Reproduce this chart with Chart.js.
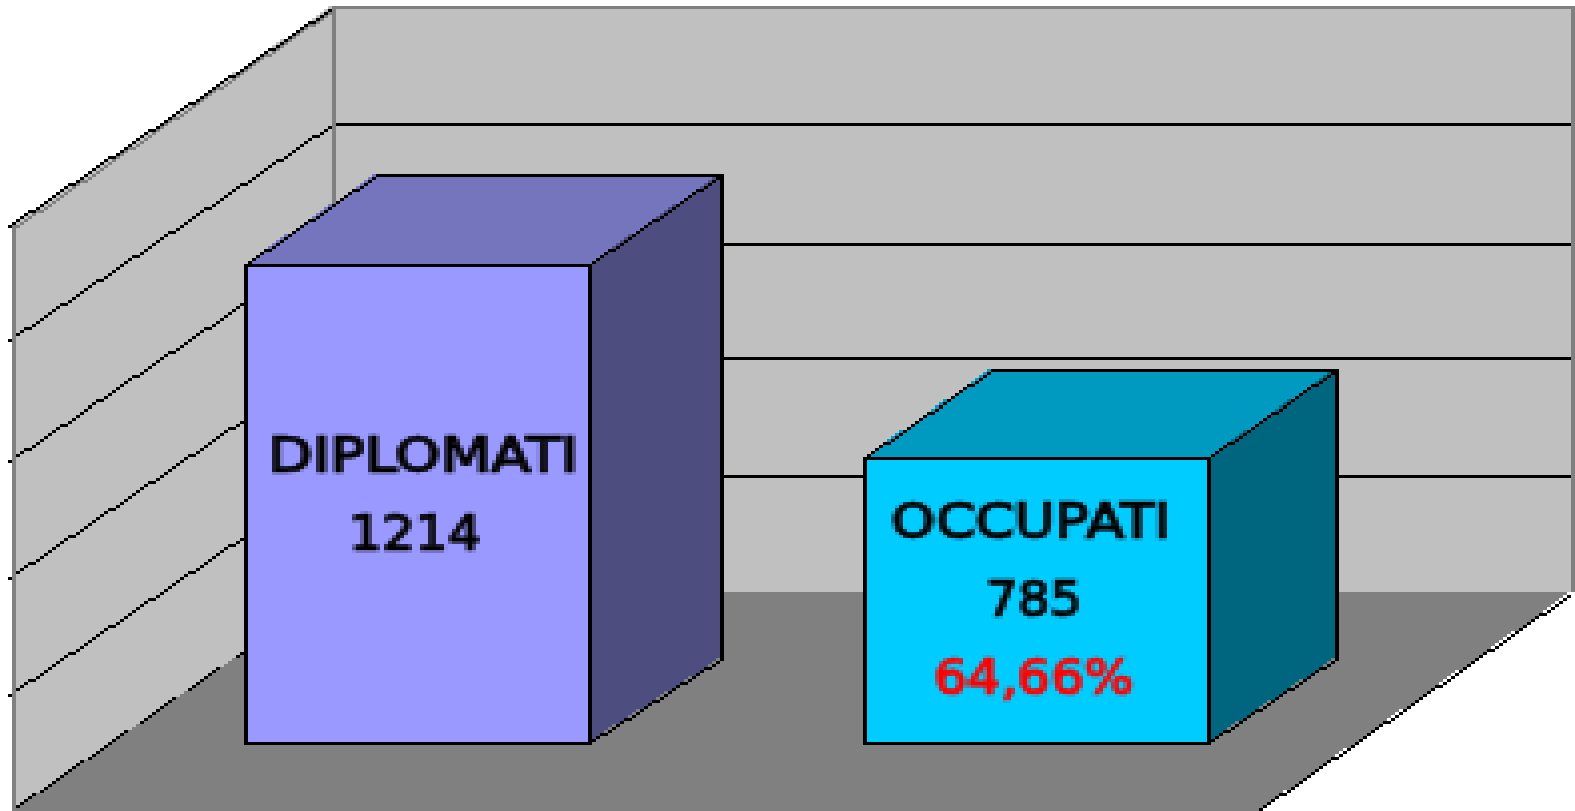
<!DOCTYPE html>
<html>
<head>
<meta charset="utf-8">
<script src="https://cdn.jsdelivr.net/npm/chart.js@4"></script>
<style>
html,body{margin:0;padding:0;background:#fff;overflow:hidden}
#c{display:block;width:1575px !important;height:811px !important;image-rendering:pixelated}
</style>
</head>
<body>
<canvas id="c" width="394" height="270"></canvas>
<script>
const categories = ['DIPLOMATI', 'OCCUPATI'];
const values = [1214, 785];
const notes = [null, '64,66%'];
const gridValues = [142, 402, 662, 920, 1187, 1442];
const frontColors = ['#9999ff', '#00ccff'];
const sideColors = ['#4d4d80', '#006680'];
const topColors = ['#7575bd', '#0099bf'];

function pxLine(c, x0, y0, x1, y1, color) {
  x0 = Math.round(x0); y0 = Math.round(y0); x1 = Math.round(x1); y1 = Math.round(y1);
  c.fillStyle = color;
  const dx = Math.abs(x1 - x0), dy = -Math.abs(y1 - y0);
  const sx = x0 < x1 ? 1 : -1, sy = y0 < y1 ? 1 : -1;
  let err = dx + dy;
  for (;;) {
    c.fillRect(x0, y0, 1, 1);
    if (x0 === x1 && y0 === y1) break;
    const e2 = 2 * err;
    if (e2 >= dy) { err += dy; x0 += sx; }
    if (e2 <= dx) { err += dx; y0 += sy; }
  }
}
function pxPoly(c, pts, color) {
  c.fillStyle = color;
  const ys = pts.map(p => p[1]);
  const y0 = Math.floor(Math.min(...ys)), y1 = Math.ceil(Math.max(...ys));
  for (let y = y0; y < y1; y++) {
    const sy = y + 0.5;
    let a = Infinity, b = -Infinity;
    pts.forEach((p, i) => {
      const q = pts[(i + 1) % pts.length];
      if ((p[1] <= sy && q[1] > sy) || (q[1] <= sy && p[1] > sy)) {
        const x = p[0] + (sy - p[1]) * (q[0] - p[0]) / (q[1] - p[1]);
        a = Math.min(a, x); b = Math.max(b, x);
      }
    });
    if (a < b) c.fillRect(Math.round(a), y, Math.round(b) - Math.round(a), 1);
  }
}

const WALL_L = 3, BACK_L = 83, WALL_R = 393, FLOOR_FR = 314;
const TO_BACK = 51, TO_FRONT = 21.4, WALL_TOP_LIFT = 1;
const BAR_DX = [33, 32], BAR_DY_TOP = [30, 29], BAR_DY_BOT = 28;

const scene = {
  id: 'scene',
  beforeDatasetsDraw(chart) {
    const c = chart.ctx, y = chart.scales.y;
    const base = y.getPixelForValue(gridValues[0]);
    const top = y.getPixelForValue(gridValues[gridValues.length - 1]);
    const floorFront = base + TO_FRONT + 1;
    const backTop = Math.round(top - TO_BACK) - WALL_TOP_LIFT;
    const wallH = Math.round(base - TO_BACK) - backTop;
    pxPoly(c, [[WALL_L, top + TO_FRONT], [BACK_L, backTop], [BACK_L, base - TO_BACK], [WALL_L, floorFront]], '#c0c0c0');
    c.fillStyle = '#c0c0c0';
    c.fillRect(BACK_L, backTop, WALL_R - BACK_L, wallH);
    gridValues.forEach((v, i) => {
      const p = y.getPixelForValue(v);
      const last = i === gridValues.length - 1;
      if (i > 0) pxLine(c, WALL_L - 1, p + TO_FRONT, BACK_L, last ? backTop : p - TO_BACK, '#000');
      else pxLine(c, WALL_L, p + TO_FRONT, BACK_L, p - TO_BACK - 1, '#000');
      if (i > 0 && !last) {
        c.fillStyle = '#000';
        c.fillRect(BACK_L, Math.round(p - TO_BACK), WALL_R - BACK_L, 1);
      }
    });
    pxLine(c, WALL_L + 1, top + TO_FRONT, BACK_L, backTop + 1, '#808080');
    c.fillStyle = '#808080';
    c.fillRect(BACK_L, backTop, WALL_R - BACK_L + 1, 1);
    c.fillRect(BACK_L, backTop, 1, wallH);
    c.fillRect(WALL_R, backTop, 1, wallH);
    c.fillRect(WALL_L, Math.round(top + TO_FRONT), 1, Math.round(base - top) + 1);
    pxPoly(c, [[BACK_L, base - TO_BACK], [WALL_R, base - TO_BACK], [FLOOR_FR, floorFront], [WALL_L, floorFront]], '#808080');
    pxLine(c, WALL_R - 1, base - TO_BACK + 1, FLOOR_FR, floorFront, '#000');
    chart.getDatasetMeta(0).data.forEach((b, i) => {
      const l = b.x - b.width / 2, r = b.x + b.width / 2 - 1, t = b.y, bt = b.base - 1;
      const dx = BAR_DX[i], dyT = BAR_DY_TOP[i];
      pxPoly(c, [[r, t], [r + dx, t - dyT], [r + dx, bt - BAR_DY_BOT], [r, bt]], sideColors[i]);
      pxPoly(c, [[l, t], [l + dx, t - dyT], [r + dx, t - dyT], [r, t]], topColors[i]);
      pxLine(c, l, t, l + dx, t - dyT, '#000');
      pxLine(c, l + dx, t - dyT, r + dx, t - dyT, '#000');
      pxLine(c, r, t, r + dx, t - dyT, '#000');
      pxLine(c, r + dx, t - dyT, r + dx, bt - BAR_DY_BOT, '#000');
      pxLine(c, r, bt, r + dx, bt - BAR_DY_BOT, '#000');
    });
  },
  afterDatasetsDraw(chart) {
    const c = chart.ctx;
    c.textAlign = 'center';
    c.textBaseline = 'alphabetic';
    c.font = '16.5px "DejaVu Sans"';
    const put = (s, x, y, col, w) => {
      c.save();
      c.translate(x, y);
      c.scale(w / c.measureText(s).width, 1);
      c.fillStyle = col;
      c.strokeStyle = col;
      c.lineWidth = 0.7;
      c.fillText(s, 0, 0);
      c.strokeText(s, 0, 0);
      c.restore();
    };
    const nameWidth = [77.5, 69.8], valueWidth = [33, 24], noteWidth = 50;
    const nameShift = [1.3, -1.5], valueShift = [-0.8, -0.8], noteShift = -0.8;
    const firstBaseline = [69, 27], valueGap = [26, 25.5], noteGap = 26;
    chart.getDatasetMeta(0).data.forEach((b, i) => {
      let y = b.y + firstBaseline[i];
      put(categories[i], b.x + nameShift[i], y, '#000', nameWidth[i]);
      y += valueGap[i];
      put(String(values[i]), b.x + valueShift[i], y, '#000', valueWidth[i]);
      if (notes[i]) put(notes[i], b.x + noteShift, y + noteGap, '#ff0000', noteWidth);
    });
  }
};

new Chart(document.getElementById('c'), {
  type: 'bar',
  data: {
    labels: categories,
    datasets: [{
      data: values,
      base: gridValues[0],
      backgroundColor: frontColors,
      borderColor: '#000',
      borderWidth: 1,
      borderSkipped: false,
      inflateAmount: 0,
      barThickness: 87
    }]
  },
  options: {
    responsive: false,
    animation: false,
    devicePixelRatio: 1,
    layout: { padding: { left: 27, right: 57, top: 54, bottom: 22 } },
    plugins: { legend: { display: false }, tooltip: { enabled: false }, title: { display: false } },
    scales: {
      x: { display: false },
      y: {
        display: false,
        min: gridValues[0],
        max: gridValues[gridValues.length - 1],
        afterBuildTicks(a) { a.ticks = gridValues.map(value => ({ value })); }
      }
    }
  },
  plugins: [scene]
});
</script>
</body>
</html>
